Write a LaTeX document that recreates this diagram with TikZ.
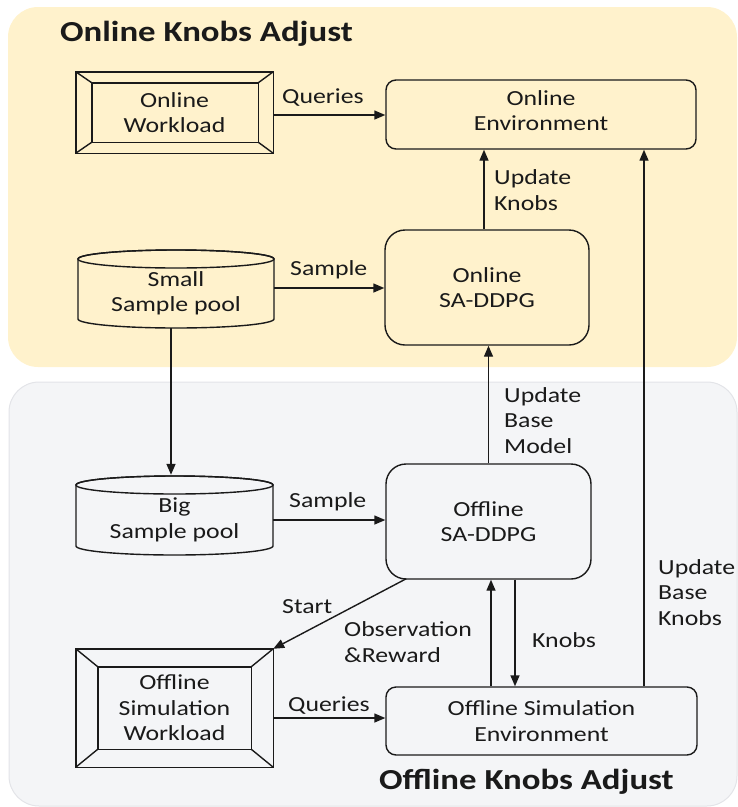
\documentclass[tikz,border=0pt]{standalone}
\usepackage{fontspec}
\setmainfont{Carlito}[FakeStretch=1.2]
\usetikzlibrary{arrows.meta,calc}
\definecolor{onbg}{HTML}{FFF2CC}
\definecolor{offbg}{HTML}{F4F5F7}
\definecolor{offedge}{HTML}{E3E4E8}
\definecolor{ink}{HTML}{1A1A1A}
\begin{document}
\begin{tikzpicture}[x=1pt,y=-1pt,
  every node/.style={font=\fontsize{21.5}{25.5}\selectfont, text=ink},
  lbl/.style={anchor=base west, align=left, inner sep=0pt},
  txt/.style={align=center, inner sep=0pt},
  boxr/.style={draw=ink, line width=1.4pt, rounded corners=10pt, align=center, inner sep=0pt},
  line/.style={draw=ink, line width=1.4pt},
  conn/.style={draw=ink, line width=1.4pt, -{Triangle[length=11pt,width=9pt]}},
  ttl/.style={font=\fontsize{29}{34}\selectfont\bfseries, anchor=base west, inner sep=0pt}
]
\useasboundingbox (0,0) rectangle (738,807);
% panels
\fill[onbg, rounded corners=30pt] (8,7) rectangle (737,367);
\filldraw[fill=offbg, draw=offedge, line width=1pt, rounded corners=30pt] (9,382) rectangle (737,806);
\node[ttl] (t1) at (60,41) {Online Knobs Adjust};
\node[ttl] (t2) at (379,789) {Offline Knobs Adjust};

% online workload
\node[txt, minimum width=197pt, minimum height=81pt] (ow) at (174.5,112.5) {Online\\Workload};
\draw[line] (ow.north west) rectangle (ow.south east);
\draw[line] ($(ow.north west)+(16,11)$) rectangle ($(ow.south east)+(-15,-11)$);
\draw[line] (ow.north west) -- ++(16,11);
\draw[line] (ow.north east) -- ++(-15,11);
\draw[line] (ow.south west) -- ++(16,-11);
\draw[line] (ow.south east) -- ++(-15,-11);

% online environment
\node[boxr, minimum width=310pt, minimum height=69pt, text depth=8pt] (oe) at (541,114.5) {Online\\Environment};

% small sample pool
\path[line, fill=onbg] (78,259) -- (78,319) arc[start angle=180, end angle=0, x radius=98, y radius=9] -- (274,259) arc[start angle=0, end angle=-180, x radius=98, y radius=9] -- cycle;
\draw[line] (176,259) ellipse[x radius=98, y radius=9];
\node[txt, minimum width=196pt, minimum height=69pt] (sp) at (176,293.5) {Small\\Sample pool};

% online SA-DDPG
\node[boxr, rounded corners=20pt, minimum width=204pt, minimum height=115pt] (os) at (487,287.5) {Online\\SA-DDPG};

% big sample pool
\path[line, fill=offbg] (76,485) -- (76,546) arc[start angle=180, end angle=0, x radius=98.5, y radius=9] -- (273,485) arc[start angle=0, end angle=-180, x radius=98.5, y radius=9] -- cycle;
\draw[line] (174.5,485) ellipse[x radius=98.5, y radius=9];
\node[txt, minimum width=197pt, minimum height=70pt] (bp) at (174.5,520) {Big\\Sample pool};

% offline SA-DDPG
\node[boxr, rounded corners=20pt, minimum width=205pt, minimum height=115pt] (fs) at (488.5,521.5) {Offline\\SA-DDPG};

% offline simulation workload
\node[txt, minimum width=197pt, minimum height=118pt] (fw) at (174.5,708) {Offline\\Simulation\\Workload};
\draw[line] (fw.north west) rectangle (fw.south east);
\draw[line] ($(fw.north west)+(22,18)$) rectangle ($(fw.south east)+(-22,-18)$);
\draw[line] (fw.north west) -- ++(22,18);
\draw[line] (fw.north east) -- ++(-22,18);
\draw[line] (fw.south west) -- ++(22,-18);
\draw[line] (fw.south east) -- ++(-22,-18);

% offline simulation environment
\node[boxr, minimum width=311pt, minimum height=68pt] (fe) at (541.5,721) {Offline Simulation\\Environment};

% coordinates for connector ends
\coordinate (q1) at ($(ow.east)+(0,2.5)$);
\coordinate (s1) at ($(sp.east)+(0,-5.5)$);
\coordinate (uk) at ($(os.north)+(-3,0)$);
\coordinate (pd1) at ($(sp.south)+(-5,0)$);
\coordinate (pd2) at ($(bp.north)+(-3.5,-10)$);
\coordinate (st) at ($(fs.south west)+(21,-1)$);
\coordinate (ob) at ($(fe.north)+(-50.5,0)$);
\coordinate (kn) at ($(fs.south)+(26.5,0)$);
\coordinate (bk) at ($(fe.north)+(102.5,0)$);
\coordinate (q2) at ($(fw.east)+(0,10)$);

% connectors
\draw[conn] (q1) -- (q1 -| oe.west);
\draw[conn] (s1) -- (s1 -| os.west);
\draw[conn] (uk) -- (uk |- oe.south);
\draw[conn] (pd1) -- (pd2);
\draw[conn] (bp.east) -- (bp.east -| fs.west);
\draw[conn] (fs.north) -- (fs.north |- os.south);
\draw[conn] (st) -- (fw.north east);
\draw[conn] (ob) -- (ob |- fs.south);
\draw[conn] (kn) -- (kn |- fe.north);
\draw[conn] (bk) -- (bk |- oe.south);
\draw[conn] (q2) -- (q2 -| fe.west);

% labels (base = baseline of the last line)
\node[lbl] (l1) at (282,103) {Queries};
\node[lbl] (l2) at (494,210) {Update\\Knobs};
\node[lbl] (l3) at (290,275) {Sample};
\node[lbl] (l4) at (504,453) {Update\\Base\\Model};
\node[lbl] (l5) at (289,507) {Sample};
\node[lbl] (l6) at (282,613) {Start};
\node[lbl] (l7) at (344,662) {Observation\\\&Reward};
\node[lbl] (l8) at (532,647) {Knobs};
\node[lbl] (l9) at (658,625) {Update\\Base\\Knobs};
\node[lbl] (l10) at (288,711) {Queries};
\end{tikzpicture}
\end{document}
